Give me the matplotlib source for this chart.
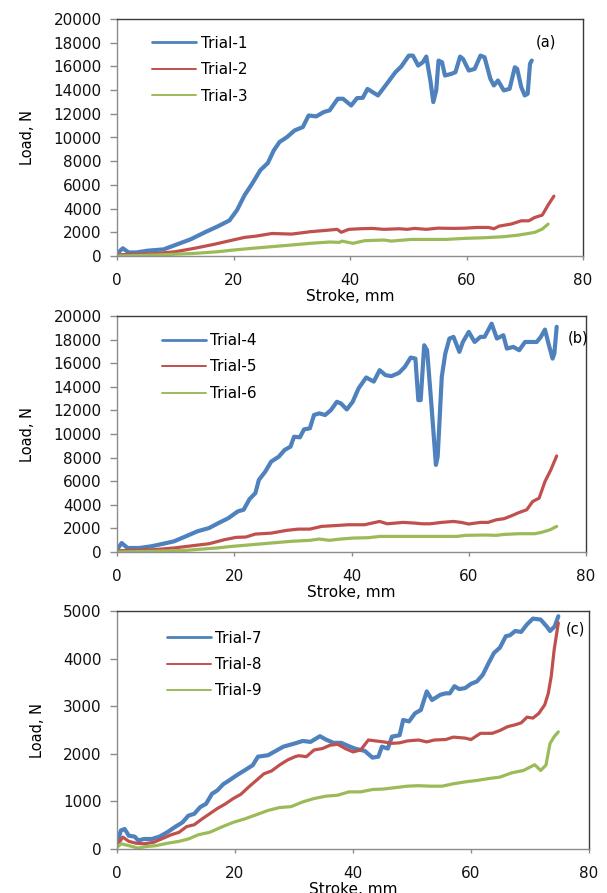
import matplotlib
matplotlib.use("Agg")
import matplotlib.pyplot as plt

plt.rcParams['font.family'] = ['DejaVu Sans']

# ---------------- data (Stroke mm, Load N) ----------------
t1_x = [0, 1, 2, 3.3, 5.3, 8, 10, 12.6, 15.3, 17.3, 19.3, 20.6, 21.9, 23.2, 24.6, 25.9, 26.9, 27.9, 29.2, 30.5,
        31.9, 32.9, 34.2, 35.5, 36.5, 37.9, 38.8, 40.2, 41.2, 42.2, 43, 44.8, 46.1, 47.8, 48.8, 50.1, 50.8, 51.7,
        52.5, 53.1, 53.8, 54.3, 54.8, 55.2, 55.8, 56.3, 57.4, 58.1, 58.9, 59.4, 60.4, 61.4, 62.4, 63.1, 64.1, 64.7,
        65.4, 66.4, 67.4, 68.3, 68.7, 69.4, 70.0, 70.5, 70.9, 71.2]
t1_y = [200, 650, 300, 300, 450, 560, 925, 1400, 2050, 2500, 3000, 3870, 5130, 6100, 7240, 7850, 8900, 9620, 10040, 10600,
        10880, 11860, 11780, 12150, 12290, 13270, 13270, 12700, 13320, 13350, 14100, 13550, 14390, 15510, 15990, 16910, 16910, 16070,
        16350, 16830, 14810, 12990, 13970, 16490, 16350, 15230, 15370, 15510, 16830, 16630, 15650, 15790, 16910, 16770, 14950, 14390,
        14810, 13970, 14110, 15930, 15790, 14250, 13550, 13690, 16210, 16490]

t2_x = [0, 6.6, 10, 13.3, 16.6, 19.9, 21.9, 23.9, 26.6, 30, 33.2, 36.5, 37.8, 38.5, 39.8, 41.8, 43.8, 45.8, 48.5, 49.8,
        51.1, 53.1, 55.1, 57.8, 59.8, 61.8, 63.8, 64.7, 65.6, 67.7, 69.4, 70.7, 71.7, 73, 74, 75]
t2_y = [100, 200, 360, 650, 980, 1350, 1570, 1680, 1900, 1850, 2050, 2190, 2250, 2000, 2250, 2300, 2330, 2250, 2300, 2250,
        2330, 2250, 2350, 2330, 2350, 2410, 2410, 2300, 2520, 2700, 2970, 2970, 3250, 3450, 4290, 5050]

t3_x = [0, 6.6, 13.3, 17.3, 19.9, 23.2, 26.6, 29.9, 33.2, 36.5, 38.2, 38.6, 40.5, 42.5, 45.8, 47.1, 50.5, 53.1, 56.4, 59.8,
        63, 66.4, 69, 71.7, 73, 74]
t3_y = [0, 80, 220, 360, 500, 650, 790, 925, 1070, 1180, 1150, 1260, 1070, 1290, 1350, 1260, 1400, 1400, 1400, 1490,
        1540, 1630, 1770, 1990, 2270, 2690]

t4_x = [0, 0.8, 1.8, 3.8, 5.8, 7.7, 9.7, 11.7, 13.7, 15.7, 17.3, 19, 20.6, 21.6, 22.6, 23.6, 24.2, 25.3, 26.3, 27.6,
        28.6, 29.6, 30.2, 31.2, 31.9, 32.9, 33.6, 34.5, 35.5, 36.5, 37.5, 38.2, 39.2, 40.2, 41.2, 42.5, 43.8, 44.8, 45.8,
        46.8, 48.1, 49.1, 50.1, 50.9, 51.4, 51.8, 52.4, 52.9, 53.7, 54.4, 54.7, 55.4, 56, 56.7, 57.4, 58.4, 59, 60, 61,
        62, 62.7, 63.9, 64.8, 65.9, 66.5, 67.6, 68.6, 69.6, 70.6, 71.6, 72.3, 73, 73.6, 74.3, 74.6, 75]
t4_y = [200, 760, 340, 340, 480, 680, 900, 1320, 1750, 2030, 2450, 2870, 3440, 3580, 4480, 4990, 6110, 6820, 7660, 8080,
        8650, 8930, 9770, 9720, 10390, 10480, 11610, 11750, 11610, 12030, 12730, 12590, 12080, 12730, 13860, 14790, 14440, 15410, 14990,
        14900, 15180, 15690, 16480, 16390, 12870, 12870, 17520, 17100, 12030, 7380, 8080, 14850, 16820, 18090, 18230, 16960, 17800, 18650, 17800,
        18230, 18230, 19350, 18090, 18370, 17240, 17380, 17100, 17800, 17800, 17800, 18230, 18850, 17660, 16390, 16820, 19080]

t5_x = [0, 6.4, 9.7, 13, 15.7, 18.3, 20.3, 22, 23.6, 26.3, 28.9, 30.9, 32.9, 34.9, 36.9, 39.5, 42.2, 43.5, 44.8, 46.1,
        48.8, 50.8, 52.1, 53.4, 55.4, 57.4, 58.7, 60, 62, 63.3, 64.7, 66, 67.3, 68.6, 69.9, 70.9, 72, 73, 74, 75]
t5_y = [100, 200, 340, 540, 700, 1040, 1240, 1270, 1520, 1600, 1830, 1940, 1940, 2170, 2230, 2310, 2310, 2450, 2590, 2390,
        2510, 2450, 2390, 2390, 2510, 2590, 2510, 2370, 2510, 2510, 2730, 2820, 3070, 3350, 3580, 4280, 4560, 5970, 6960, 8140]

t6_x = [0, 6.4, 11.7, 17, 19.7, 23, 26.3, 29.6, 32.9, 34.5, 36.2, 38.2, 40.2, 42.8, 44.8, 49.4, 52.7, 58, 59.4, 62.7,
        64.7, 66, 68.6, 71.3, 72.6, 73.9, 75]
t6_y = [0, 60, 140, 340, 480, 620, 760, 900, 990, 1100, 990, 1100, 1180, 1210, 1320, 1320, 1320, 1320, 1410, 1440,
        1410, 1490, 1550, 1550, 1690, 1890, 2170]

t7_x = [0, 0.66, 1.3, 2, 3, 3.6, 4.6, 5.9, 7.2, 8.5, 9.8, 11.1, 12.1, 13.1, 14.1, 15.1, 16.1, 17, 18, 19,
        20.3, 21.6, 23, 23.9, 25.6, 26.9, 28.2, 30.2, 31.5, 32.8, 34.4, 35.4, 36.7, 38, 39.3, 40.3, 42, 43.3, 44.3, 44.9,
        45.9, 46.6, 47.9, 48.5, 49.5, 50.5, 51.5, 52.5, 53.4, 54.8, 55.7, 56.4, 57.2, 58, 59, 60, 61, 62, 63, 63.9,
        64.9, 65.9, 66.6, 67.5, 68.5, 69.5, 70.5, 71.8, 72.8, 73.4, 74.2, 74.8]
t7_y = [100, 390, 420, 280, 260, 180, 210, 210, 260, 350, 460, 560, 700, 740, 880, 950, 1160, 1230, 1360, 1440,
        1550, 1650, 1760, 1940, 1970, 2060, 2150, 2220, 2270, 2250, 2370, 2300, 2230, 2230, 2160, 2110, 2060, 1920, 1940, 2150,
        2110, 2360, 2390, 2710, 2680, 2850, 2920, 3310, 3130, 3240, 3270, 3270, 3420, 3360, 3380, 3470, 3520, 3660, 3910, 4120,
        4230, 4470, 4490, 4580, 4560, 4720, 4840, 4820, 4680, 4580, 4680, 4890]

t8_x = [0, 1, 2, 3.3, 4.6, 6.2, 7.9, 9.2, 10.5, 11.8, 13.1, 14.4, 15.7, 17, 18.4, 19.7, 21, 22.3, 23.6, 24.9,
        26.2, 27.5, 28.9, 30.2, 30.8, 32.1, 33.4, 34.8, 36.1, 37.4, 38.7, 40, 41.3, 42.6, 43.9, 45.2, 46.6, 47.9, 49.2, 51.1,
        52.5, 53.8, 55.7, 57, 59, 60, 61.6, 63.6, 64.9, 66.2, 67.5, 68.5, 69.5, 70.5, 71.5, 72.5, 73.1, 73.6, 74.1, 74.8]
t8_y = [70, 250, 160, 120, 110, 140, 230, 300, 350, 470, 510, 630, 740, 850, 950, 1060, 1150, 1300, 1440, 1580,
        1640, 1760, 1870, 1940, 1960, 1940, 2080, 2110, 2180, 2200, 2110, 2040, 2080, 2290, 2270, 2250, 2220, 2230, 2270, 2290,
        2250, 2290, 2300, 2350, 2330, 2300, 2430, 2430, 2490, 2570, 2610, 2650, 2770, 2750, 2850, 3030, 3270, 3630, 4190, 4750]

t9_x = [0, 0.7, 2, 3.6, 4.9, 6.6, 8.5, 10.5, 12.1, 13.8, 15.7, 17.7, 19.7, 21.6, 23.6, 25.6, 27.5, 29.5, 31.5, 33.4,
        35.4, 37.4, 39.3, 41.3, 43.3, 45.2, 47.2, 49.2, 51.1, 53.1, 55.1, 57, 59, 61, 63, 64.9, 66.9, 68.9, 70.8, 71.8,
        72.7, 73.4, 74.1, 74.8]
t9_y = [35, 110, 70, 20, 50, 70, 120, 160, 210, 300, 350, 460, 560, 630, 720, 810, 870, 890, 990, 1060,
        1110, 1130, 1200, 1200, 1250, 1260, 1290, 1320, 1330, 1320, 1320, 1370, 1410, 1440, 1480, 1510, 1600, 1650, 1770, 1650,
        1760, 2220, 2360, 2460]

panel_labels = ["(a)", "(b)", "(c)"]
legend_labels = [["Trial-1", "Trial-2", "Trial-3"],
                 ["Trial-4", "Trial-5", "Trial-6"],
                 ["Trial-7", "Trial-8", "Trial-9"]]
x_ticks = [0, 20, 40, 60, 80]
y_ticks_ab = [0, 2000, 4000, 6000, 8000, 10000, 12000, 14000, 16000, 18000, 20000]
y_ticks_c = [0, 1000, 2000, 3000, 4000, 5000]

# ---------------- styling ----------------
BLUE, RED, GREEN = "#4F81BD", "#C0504D", "#9BBB59"
colors = [BLUE, RED, GREEN]
lws = [3.0, 2.3, 2.3]
leg_lws = [2.0, 1.4, 1.4]

W, H = 607, 893
fig = plt.figure(figsize=(W / 100, H / 100), dpi=100)

# axes boxes in pixels: left, right, top, bottom
boxes = [(117, 583, 19, 256), (117, 586, 316, 552), (117, 589, 611, 849)]
series = [[(t1_x, t1_y), (t2_x, t2_y), (t3_x, t3_y)],
          [(t4_x, t4_y), (t5_x, t5_y), (t6_x, t6_y)],
          [(t7_x, t7_y), (t8_x, t8_y), (t9_x, t9_y)]]
label_pos = [(0.92, 0.905), (0.983, 0.907), (0.972, 0.924)]
leg_anchor = [(0.075, 0.93), (0.095, 0.928), (0.105, 0.918)]

for i, (l, r, t, b) in enumerate(boxes):
    ax = fig.add_axes([l / W, 1 - b / H, (r - l) / W, (b - t) / H])
    for (xs, ys), c, lw, lab in zip(series[i], colors, lws, legend_labels[i]):
        ax.plot(xs, ys, color=c, lw=lw, label=lab, solid_capstyle='round', solid_joinstyle='round')
    ax.set_xlim(0, 80)
    ax.set_xticks(x_ticks)
    if i < 2:
        ax.set_ylim(0, 20000)
        ax.set_yticks(y_ticks_ab)
    else:
        ax.set_ylim(0, 5000)
        ax.set_yticks(y_ticks_c)
    for s in ['left', 'bottom']:
        ax.spines[s].set_color('#8c8c8c')
        ax.spines[s].set_linewidth(1.0)
    for s in ['top', 'right']:
        ax.spines[s].set_color('#3a3a3a')
        ax.spines[s].set_linewidth(1.0)
    ax.tick_params(axis='y', direction='out', length=5, width=1, color='#8c8c8c',
                   labelsize=11, pad=6, labelcolor='#111111')
    ax.tick_params(axis='x', direction='out', length=3, width=1, color='#8c8c8c',
                   labelsize=11, pad=9, labelcolor='#111111')
    ax.set_xlabel("Stroke, mm", fontsize=11, labelpad=1)
    ax.set_ylabel("Load, N", fontsize=10.5, labelpad=13)
    ax.text(label_pos[i][0], label_pos[i][1], panel_labels[i], transform=ax.transAxes,
            fontsize=10.5, ha='center', va='center', clip_on=False)
    leg = ax.legend(loc='upper left', bbox_to_anchor=leg_anchor[i], frameon=False,
                    fontsize=11, handlelength=2.9, handletextpad=0.3, labelspacing=0.75,
                    borderpad=0, borderaxespad=0)
    for h, lw in zip(leg.get_lines(), leg_lws):
        h.set_linewidth(lw)

fig.savefig("out.png", dpi=100)
